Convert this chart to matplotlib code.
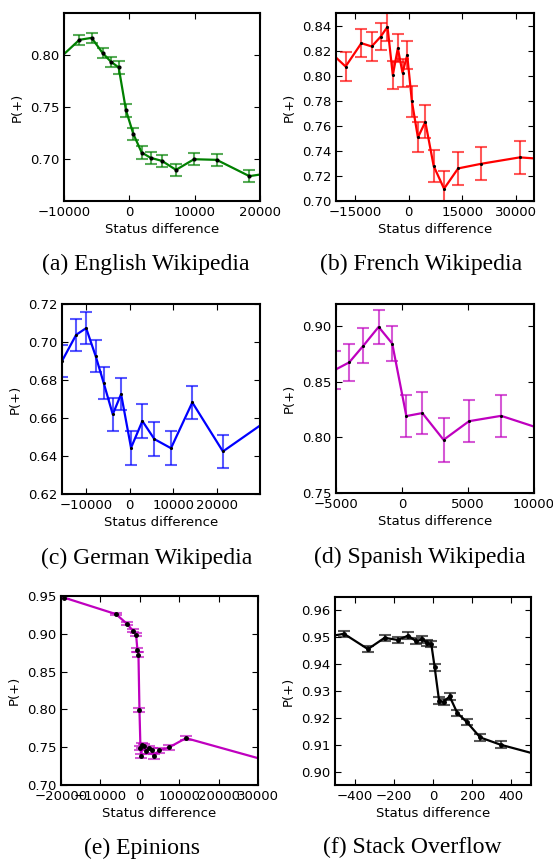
import matplotlib
matplotlib.use('Agg')
import matplotlib.pyplot as plt

# (a) English Wikipedia
en_x = [-12000, -7650, -5770, -4080, -2810, -1630, -510, 610, 1890, 3270, 5000, 7140, 9900, 13370, 18370, 25000]
en_y = [0.789, 0.8143, 0.8162, 0.8016, 0.7933, 0.7879, 0.7468, 0.7242, 0.7064, 0.7013, 0.6984, 0.6898, 0.700, 0.6994, 0.6838, 0.690]
en_err = [0.005, 0.005, 0.005, 0.005, 0.005, 0.006, 0.006, 0.006, 0.006, 0.006, 0.006, 0.006, 0.006, 0.006, 0.006, 0.006]

# (b) French Wikipedia
fr_x = [-22000, -17620, -13210, -10310, -7780, -5900, -4400, -3000, -1690, -375, 940, 2620, 4690, 7030, 9930, 13870, 20340, 31110, 40000]
fr_y = [0.819, 0.8073, 0.8259, 0.8233, 0.8312, 0.839, 0.8004, 0.8219, 0.8023, 0.8164, 0.7794, 0.7507, 0.7632, 0.7279, 0.7098, 0.726, 0.7297, 0.7348, 0.733]
fr_err = [0.012, 0.0117, 0.011, 0.0115, 0.011, 0.011, 0.011, 0.011, 0.011, 0.011, 0.012, 0.012, 0.013, 0.013, 0.014, 0.013, 0.013, 0.013, 0.013]

# (c) German Wikipedia
de_x = [-15600, -12340, -10040, -7820, -5980, -3910, -1990, 300, 2910, 5670, 9500, 14410, 21460, 35000]
de_y = [0.690, 0.7038, 0.7073, 0.6924, 0.6783, 0.6619, 0.6726, 0.6443, 0.6584, 0.6489, 0.6441, 0.6682, 0.6424, 0.664]
de_err = [0.0083, 0.0083, 0.0083, 0.0084, 0.0085, 0.0085, 0.0085, 0.009, 0.0088, 0.0088, 0.0088, 0.0087, 0.0088, 0.0088]

# (d) Spanish Wikipedia
es_x = [-5100, -4000, -2920, -1770, -740, 330, 1540, 3150, 5080, 7510, 12000]
es_y = [0.8606, 0.8675, 0.8826, 0.8994, 0.8844, 0.8192, 0.8219, 0.7978, 0.8146, 0.8194, 0.802]
es_err = [0.017, 0.0167, 0.0158, 0.015, 0.0156, 0.0188, 0.0186, 0.0195, 0.019, 0.019, 0.019]

# (e) Epinions
ep_x = [-24000, -19300, -6040, -3230, -1790, -940, -600, -340, -85, 170, 340, 680, 1020, 1700, 2300, 2980, 3490, 4850, 7400, 11730, 40000]
ep_y = [0.9505, 0.948, 0.926, 0.9131, 0.9043, 0.8985, 0.8785, 0.8723, 0.799, 0.7488, 0.7386, 0.7524, 0.751, 0.7444, 0.7488, 0.7457, 0.7377, 0.7457, 0.7497, 0.762, 0.721]
ep_err = [0.002, 0.002, 0.0015, 0.002, 0.002, 0.002, 0.003, 0.003, 0.003, 0.003, 0.003, 0.003, 0.003, 0.003, 0.003, 0.003, 0.003, 0.003, 0.003, 0.003, 0.003]

# (f) Stack Overflow
so_x = [-550, -454, -332, -247, -179, -128, -87, -54, -29, -8.5, 8.5, 31, 54, 85, 124, 173, 241, 345, 600]
so_y = [0.9501, 0.9513, 0.9456, 0.9498, 0.949, 0.9506, 0.9486, 0.9492, 0.9479, 0.9474, 0.9388, 0.9264, 0.9259, 0.928, 0.9218, 0.9184, 0.9127, 0.910, 0.905]
so_err = [0.0012] * len(so_x)

panels = [
    (en_x, en_y, en_err, 'g', (-10000, 20000), (0.66, 0.84), [-10000, 0, 10000, 20000], [0.70, 0.75, 0.80], 4, '(a) English Wikipedia'),
    (fr_x, fr_y, fr_err, 'r', (-20300, 35100), (0.70, 0.85), [-15000, 0, 15000, 30000], [0.70, 0.72, 0.74, 0.76, 0.78, 0.80, 0.82, 0.84], 2.5, '(b) French Wikipedia'),
    (de_x, de_y, de_err, 'b', (-15600, 30000), (0.62, 0.72), [-10000, 0, 10000, 20000], [0.62, 0.64, 0.66, 0.68, 0.70, 0.72], 2.5, '(c) German Wikipedia'),
    (es_x, es_y, es_err, 'm', (-5000, 10000), (0.75, 0.92), [-5000, 0, 5000, 10000], [0.75, 0.80, 0.85, 0.90], 2.5, '(d) Spanish Wikipedia'),
    (ep_x, ep_y, ep_err, 'm', (-20000, 30000), (0.70, 0.95), [-20000, -10000, 0, 10000, 20000, 30000], [0.70, 0.75, 0.80, 0.85, 0.90, 0.95], 5, '(e) Epinions'),
    (so_x, so_y, so_err, 'k', (-500, 500), (0.895, 0.965), [-400, -200, 0, 200, 400], [0.90, 0.91, 0.92, 0.93, 0.94, 0.95, 0.96], 5, '(f) Stack Overflow'),
]

# axes boxes in pixels: left, right, top, bottom
boxes = [(64, 260, 13, 201), (336, 534, 13, 201),
         (62, 260, 304, 494), (336, 534, 304, 493),
         (61, 258, 596, 785), (335, 531, 597, 785)]
captions = [(146, 264), (421, 264), (147, 558), (420, 557), (142, 848), (412, 847)]

W, H = 553, 859
fig = plt.figure(figsize=(W / 100.0, H / 100.0), dpi=100)

for (x, y, err, col, xl, yl, xt, yt, ms, cap), (l, r, t, b), (cx, cy) in zip(panels, boxes, captions):
    ax = fig.add_axes([l / W, 1 - b / H, (r - l) / W, (b - t) / H])
    ax.errorbar(x, y, yerr=err, fmt='none', ecolor=col, alpha=0.65, capsize=4, elinewidth=1.5, capthick=1.5)
    ax.plot(x, y, '-', color=col, lw=1.6)
    ax.plot(x, y, '.', color='k', ms=ms)
    ax.set_xlim(xl)
    ax.set_ylim(yl)
    ax.set_xticks(xt)
    ax.set_yticks(yt)
    ax.set_yticklabels(['%.2f' % v for v in yt])
    ax.tick_params(direction='in', top=True, right=True, length=4, labelsize=9.5)
    for s in ax.spines.values():
        s.set_linewidth(1.5)
    ax.set_xlabel('Status difference', fontsize=9.5, labelpad=3)
    ax.set_ylabel('P(+)', fontsize=9.5)
    fig.text(cx / W, 1 - cy / H, cap, ha='center', va='center', fontsize=17, family='Liberation Serif')

fig.savefig('out.png', dpi=100)
